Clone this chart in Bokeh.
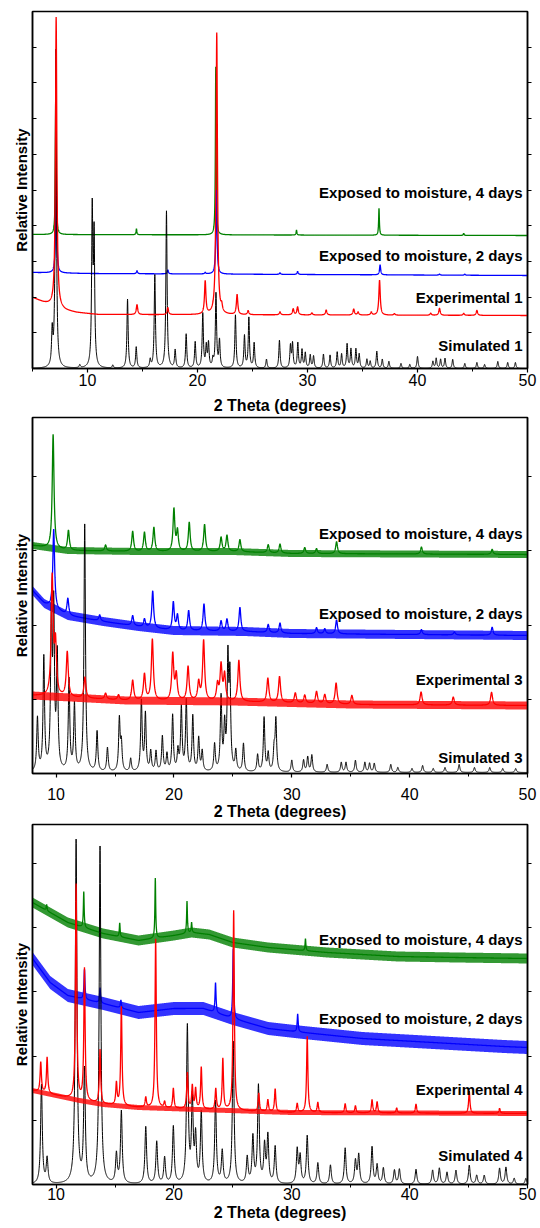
import numpy as np
from bokeh.plotting import figure
from bokeh.layouts import column
from bokeh.models import Label, LinearAxis, FixedTicker, Range1d, CustomJSTickFormatter
from bokeh.embed import file_html
from bokeh.resources import INLINE

FONT = "Liberation Sans"

X_TICKS = [10, 20, 30, 40, 50]
X_MINOR = [5, 15, 25, 35, 45]
X_TITLE = "2 Theta (degrees)"
Y_TITLE = "Relative Intensity"

# ---------------- Panel 1 (compound 1) ----------------
P1_LABELS = ["Simulated 1", "Experimental 1", "Exposed to moisture, 2 days", "Exposed to moisture, 4 days"]
P1_LABEL_Y = [23, 71, 113, 176]

P1_SIM_BASE_X = [5, 50]
P1_SIM_BASE_Y = [0, 0]
P1_SIM_POS = [6.79, 7.12, 9.3, 10.43, 10.6, 12.3, 13.64, 14.43, 15.7, 16.12, 17.18, 17.97, 18.97, 19.79,
              20.48, 20.8, 21.0, 21.4, 21.68, 22.0, 23.45, 24.27, 24.67, 25.15, 26.27, 27.45, 28.45,
              28.64, 29.12, 29.5, 29.8, 30.25, 30.55, 31.45, 32.05, 32.7, 33.1, 33.6, 33.95, 34.4,
              34.7, 35.4, 35.7, 36.3, 36.8, 37.4, 38.5, 39.3, 40.0, 41.4, 41.7, 42.1, 42.5, 43.2,
              44.3, 45.4, 46.1, 47.3, 48.2, 48.9]
P1_SIM_HT = [34, 318, 3, 154, 127, 3, 69, 21, 8, 93, 157, 18, 34, 26,
             54, 21, 24, 8, 74, 27, 53, 32, 50, 25, 9, 28, 22,
             24, 25, 18, 15, 13, 12, 14, 13, 16, 14, 24, 19, 19,
             14, 9, 7, 17, 9, 7, 5, 4, 12, 7, 10, 9, 10, 9,
             5, 6, 4, 7, 6, 6]

P1_EXP_BASE_X = [5, 6, 7, 8, 9, 11, 50]
P1_EXP_BASE_Y = [71, 66, 62, 58, 56, 54, 53]
P1_EXP_POS = [7.15, 14.5, 17.3, 20.7, 21.75, 22.2, 23.6, 24.6, 27.5, 28.7, 29.1, 30.4, 31.7, 34.2,
              34.6, 35.8, 36.55, 37.9, 41.2, 42.0, 44.2, 45.4]
P1_EXP_HT = [290, 10, 7, 33, 282, 6, 20, 4, 3, 6, 8, 2, 5, 6,
             3, 3, 35, 1.5, 2, 7, 2, 5]

P1_D2_BASE_X = [5, 10, 50]
P1_D2_BASE_Y = [96, 95, 93]
P1_D2_POS = [7.15, 14.5, 17.3, 20.7, 21.72, 27.5, 29.1, 36.6, 42.0, 44.3]
P1_D2_HT = [93, 3, 4, 1.5, 84, 1.5, 3, 10, 1, 1]

P1_D4_BASE_X = [5, 50]
P1_D4_BASE_Y = [134, 133]
P1_D4_POS = [7.12, 14.45, 21.66, 29.0, 36.5, 44.2]
P1_D4_HT = [159, 6, 168, 5, 27, 2]

# ---------------- Panel 2 (compound 3) ----------------
P2_LABELS = ["Simulated 3", "Experimental 3", "Exposed to moisture, 2 days", "Exposed to moisture, 4 days"]
P2_LABEL_Y = [16, 94, 160, 240]

P2_SIM_BASE_X = [8, 50]
P2_SIM_BASE_Y = [1, 1]
P2_SIM_POS = [8.42, 8.96, 9.6, 9.8, 10.1, 11.1, 11.56, 12.43, 13.48, 14.36, 15.37, 15.54, 16.33,
              17.24, 17.58, 18.03, 18.48, 19.02, 19.41, 19.89, 20.34, 20.63, 21.05, 21.6, 22.1,
              22.4, 23.45, 24.0, 24.3, 24.58, 24.75, 25.25, 25.9, 27.1, 27.65, 28.0, 28.5, 28.65,
              30.0, 31.0, 31.35, 31.7, 33.0, 34.2, 34.6, 35.4, 36.2, 36.6, 37.0, 38.4, 39.0,
              40.2, 41.1, 42.0, 43.0, 44.2, 45.5, 46.8, 47.9, 49.0]
P2_SIM_HT = [53, 113, 150, 155, 113, 91, 66, 247, 40, 24, 52, 27, 13,
             70, 57, 20, 20, 35, 17, 56, 20, 63, 70, 55, 33,
             20, 27, 73, 43, 108, 90, 20, 28, 17, 54, 18, 21, 51,
             12, 12, 15, 17, 8, 10, 10, 12, 10, 9, 9, 8, 5,
             4, 7, 4, 5, 8, 5, 5, 4, 4]

P2_EXP_BASE_X = [8, 16, 25, 35, 50]
P2_EXP_BASE_Y = [78, 73, 72, 69, 68]
P2_EXP_POS = [9.67, 9.95, 10.95, 12.45, 14.2, 15.3, 16.5, 17.5, 18.17, 19.9, 20.2, 21.2, 22.1,
              22.52, 23.7, 24.0, 24.3, 25.51, 27.97, 28.96, 30.3, 31.1, 32.1, 32.8, 33.76, 35.1,
              40.97, 43.7, 46.95]
P2_EXP_HT = [118, 50, 45, 21, 6, 5, 20, 26, 61, 46, 25, 34, 18,
             60, 16, 35, 26, 41, 24, 26, 10, 8, 12, 9, 21, 9,
             13, 8, 13]

P2_D2_BASE_X = [8, 9, 11, 14, 17, 20, 26, 30, 40, 50]
P2_D2_BASE_Y = [183, 170, 158, 152, 147, 143, 142, 140, 139, 138]
P2_D2_POS = [9.8, 11.0, 13.7, 16.5, 17.5, 18.2, 19.95, 20.3, 21.25, 22.55, 24.0, 24.5, 25.6,
             28.0, 29.0, 32.1, 32.8, 33.8, 41.0, 43.8, 47.0]
P2_D2_HT = [79, 17, 6, 10, 8, 37, 28, 15, 20, 27, 10, 12, 24,
            8, 10, 6, 5, 14, 5, 3, 8]

P2_D4_BASE_X = [8, 11, 17, 25, 30, 50]
P2_D4_BASE_Y = [228, 223, 222, 222, 220, 219]
P2_D4_POS = [9.75, 11.05, 14.2, 16.5, 17.5, 18.3, 20.0, 20.3, 21.3, 22.6, 24.0, 24.5, 25.6,
             28.0, 29.0, 31.1, 32.1, 33.8, 41.0, 47.0]
P2_D4_HT = [114, 20, 6, 20, 19, 24, 42, 20, 29, 27, 14, 16, 12,
            8, 9, 6, 5, 12, 7, 5]

# ---------------- Panel 3 (compound 4) ----------------
P3_LABELS = ["Simulated 4", "Experimental 4", "Exposed to moisture, 2 days", "Exposed to moisture, 4 days"]
P3_LABEL_Y = [29, 95, 166, 245]

P3_SIM_BASE_X = [8, 50]
P3_SIM_BASE_Y = [0, 0]
P3_SIM_POS = [8.76, 9.24, 11.7, 12.41, 13.73, 15.12, 15.54, 17.61, 18.54, 19.21, 19.95, 21.14,
              21.56, 21.84, 22.32, 23.53, 24.1, 25.03, 26.22, 26.7, 27.17, 27.69, 27.97, 28.59,
              30.46, 30.71, 31.31, 32.21, 33.28, 34.53, 35.4, 35.68, 36.81, 37.24, 37.77, 38.71,
              39.13, 40.54, 41.95, 42.52, 43.17, 43.93, 45.06, 45.69, 46.33, 47.63, 48.17, 48.87,
              49.86]
P3_SIM_HT = [99, 25, 343, 112, 337, 29, 72, 57, 42, 26, 57, 156,
             82, 45, 70, 82, 32, 142, 26, 46, 97, 37, 47, 37,
             34, 27, 48, 21, 19, 36, 23, 29, 37, 19, 16, 14,
             15, 15, 14, 16, 12, 14, 19, 9, 9, 16, 17, 6,
             6]

P3_EXP_BASE_X = [8, 10, 12, 14, 17, 22, 30, 50]
P3_EXP_BASE_Y = [94, 89, 84, 80, 77, 75, 72, 71]
P3_EXP_POS = [8.7, 9.24, 11.7, 12.41, 13.73, 15.12, 15.54, 17.61, 18.45, 19.21, 19.95, 21.14,
              21.56, 21.84, 22.32, 23.55, 24.15, 25.07, 27.2, 27.97, 28.59, 30.46, 31.31, 32.21,
              34.53, 35.4, 36.81, 37.24, 38.9, 40.54, 45.06, 47.63]
P3_EXP_HT = [30, 36, 215, 132, 54, 22, 99, 10, 169, 6, 20, 36,
             23, 20, 42, 21, 51, 200, 18, 12, 23, 9, 76, 10,
             9, 7, 13, 11, 5, 9, 22, 5]

P3_D2_BASE_X = [8, 9.5, 11, 14, 17, 20, 22.5, 25, 28, 31, 36, 42, 48, 50]
P3_D2_BASE_Y = [226, 202, 189, 181, 172, 176, 176, 166, 156, 152, 146, 142, 138, 137]
P3_D2_POS = [12.41, 13.73, 15.5, 23.53, 25.03, 30.5]
P3_D2_HT = [30, 15, 8, 30, 70, 18]

P3_D4_BASE_X = [8, 11, 14, 17, 20, 21.5, 23, 25, 28, 33, 39, 44, 50]
P3_D4_BASE_Y = [282, 262, 251, 244, 249, 252, 250, 242, 237, 232, 228, 227, 226]
P3_D4_POS = [9.2, 12.35, 15.4, 18.42, 21.11, 21.5, 31.16]
P3_D4_HT = [6, 36, 14, 60, 32, 10, 12]

COLORS = ["#000000", "#ff0000", "#0000ff", "#008000"]


def profile(x, bx, by, pos, ht, fwhm):
    y = np.interp(x, bx, by)
    hw = fwhm / 2.0
    for p0, h in zip(pos, ht):
        y = y + h / (1.0 + ((x - p0) / hw) ** 2)
    return y


def blank_axis(ax):
    ax.formatter = CustomJSTickFormatter(code="return '';")
    ax.major_label_standoff = 0


def make_panel(height, top, bottom, left, right, xr, ymax, ytick_step, traces, labels, label_y,
               tick_standoff, title_standoff):
    p = figure(width=540, height=height, x_range=Range1d(xr[0], xr[1]), y_range=Range1d(0, ymax),
               output_backend="svg", toolbar_location=None, title=None,
               min_border_top=top, min_border_bottom=bottom,
               min_border_left=left, min_border_right=right)
    p.background_fill_color = "white"
    p.border_fill_color = "white"
    p.outline_line_color = "black"
    p.outline_line_width = 1.5
    p.xgrid.visible = False
    p.ygrid.visible = False

    x = np.round(np.arange(xr[0], xr[1] + 0.0001, 0.01), 2)
    # draw order: 4 days, 2 days, simulated, experimental
    for idx in [3, 2, 0, 1]:
        bx, by, pos, ht, fwhm, amp, lw = traces[idx]
        y = profile(x, bx, by, pos, ht, fwhm)
        if amp > 0:
            base = np.interp(x, bx, by)
            p.varea(x=x, y1=base - amp, y2=base + amp, fill_color=COLORS[idx], fill_alpha=0.8)
        p.line(x=x, y=y, line_color=COLORS[idx], line_width=lw)

    yt = list(np.round(np.arange(ytick_step, ymax, ytick_step), 3))

    xa = p.xaxis[0]
    xa.ticker = FixedTicker(ticks=X_TICKS, minor_ticks=X_MINOR)
    xa.axis_label = X_TITLE
    xa.axis_label_text_font = FONT
    xa.axis_label_text_font_style = "bold"
    xa.axis_label_text_font_size = "16px"
    xa.axis_label_text_color = "black"
    xa.axis_label_standoff = title_standoff
    xa.major_label_text_font = FONT
    xa.major_label_text_font_size = "16px"
    xa.major_label_text_color = "black"
    xa.major_label_standoff = tick_standoff
    xa.major_tick_in = 0
    xa.major_tick_out = 4
    xa.minor_tick_in = 0
    xa.minor_tick_out = 3
    xa.axis_line_width = 1.5
    xa.major_tick_line_width = 1.2

    ya = p.yaxis[0]
    ya.ticker = FixedTicker(ticks=yt, minor_ticks=[])
    blank_axis(ya)
    ya.axis_label = Y_TITLE
    ya.axis_label_text_font = FONT
    ya.axis_label_text_font_style = "bold"
    ya.axis_label_text_font_size = "15px"
    ya.axis_label_text_color = "black"
    ya.axis_label_standoff = 3
    ya.major_tick_in = 4
    ya.major_tick_out = 0
    ya.minor_tick_in = 0
    ya.minor_tick_out = 0
    ya.axis_line_width = 1.5

    ra = LinearAxis(ticker=FixedTicker(ticks=yt, minor_ticks=[]),
                    major_tick_in=0, major_tick_out=4,
                    minor_tick_in=0, minor_tick_out=0, axis_line_width=1.5)
    blank_axis(ra)
    p.add_layout(ra, "right")

    for txt, ly in zip(labels, label_y):
        p.add_layout(Label(x=xr[1], y=ly, x_offset=-5, text=txt, text_align="right",
                           text_baseline="middle", text_font=FONT, text_font_style="bold",
                           text_font_size="15px", text_color="black"))
    return p


p1 = make_panel(416, 11, 48, 32, 13, (5, 50), 357, 35.7, [
    (P1_SIM_BASE_X, P1_SIM_BASE_Y, P1_SIM_POS, P1_SIM_HT, 0.13, 0, 1.0),
    (P1_EXP_BASE_X, P1_EXP_BASE_Y, P1_EXP_POS, P1_EXP_HT, 0.15, 0, 1.3),
    (P1_D2_BASE_X, P1_D2_BASE_Y, P1_D2_POS, P1_D2_HT, 0.12, 0, 1.3),
    (P1_D4_BASE_X, P1_D4_BASE_Y, P1_D4_POS, P1_D4_HT, 0.08, 0, 1.3),
], P1_LABELS, P1_LABEL_Y, 1, 8)

p2 = make_panel(406, 1, 49, 31, 12, (8, 50), 356, 74.2, [
    (P2_SIM_BASE_X, P2_SIM_BASE_Y, P2_SIM_POS, P2_SIM_HT, 0.15, 0, 1.0),
    (P2_EXP_BASE_X, P2_EXP_BASE_Y, P2_EXP_POS, P2_EXP_HT, 0.2, 4, 1.3),
    (P2_D2_BASE_X, P2_D2_BASE_Y, P2_D2_POS, P2_D2_HT, 0.18, 4.5, 1.3),
    (P2_D4_BASE_X, P2_D4_BASE_Y, P2_D4_POS, P2_D4_HT, 0.18, 3.5, 1.3),
], P2_LABELS, P2_LABEL_Y, 10, 0)

p3 = make_panel(406, 2, 44, 31, 12, (8, 50), 360, 64.2, [
    (P3_SIM_BASE_X, P3_SIM_BASE_Y, P3_SIM_POS, P3_SIM_HT, 0.17, 0, 1.0),
    (P3_EXP_BASE_X, P3_EXP_BASE_Y, P3_EXP_POS, P3_EXP_HT, 0.13, 2.5, 1.3),
    (P3_D2_BASE_X, P3_D2_BASE_Y, P3_D2_POS, P3_D2_HT, 0.1, 6.5, 1.3),
    (P3_D4_BASE_X, P3_D4_BASE_Y, P3_D4_POS, P3_D4_HT, 0.08, 5, 1.3),
], P3_LABELS, P3_LABEL_Y, -1, 1)

layout = column(p1, p2, p3, spacing=0)
open("out.html", "w").write(file_html(layout, INLINE))
